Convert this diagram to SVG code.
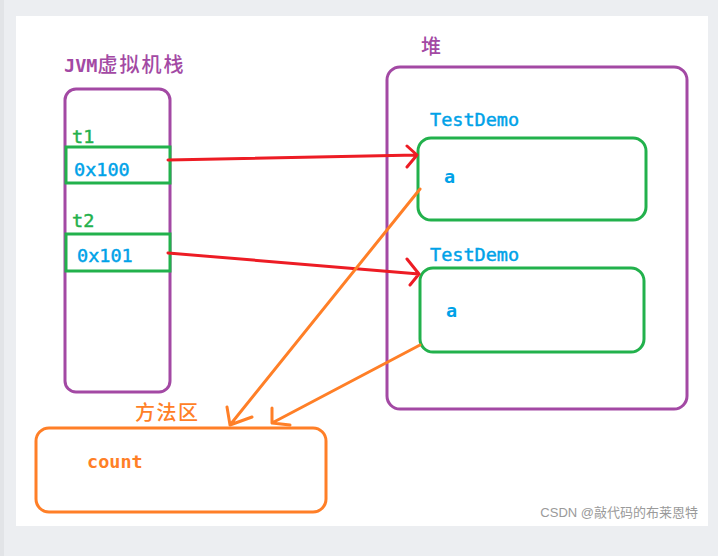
<svg xmlns="http://www.w3.org/2000/svg" width="718" height="556" viewBox="0 0 718 556">
<style>
.box{fill:none;stroke-width:3}
.pu{stroke:#a349a4}
.gr{stroke:#22b14c}
.or{stroke:#ff7f27}
.mono{font-family:"DejaVu Sans Mono","Liberation Mono",monospace;font-size:18.5px}
.semi{stroke-width:0.45}
.cjk{font-family:"Noto Sans CJK SC","DejaVu Sans",sans-serif;font-weight:500}
.ln{fill:none;stroke-width:3;stroke-linecap:round;stroke-linejoin:round}
</style>
<rect x="0" y="0" width="718" height="556" fill="#eceef1"/>
<rect x="0" y="0" width="4" height="556" fill="#e2e4e7"/>
<rect x="16" y="16" width="692" height="510" fill="#ffffff"/>

<g id="stack">
<text x="64" y="72" fill="#a349a4" font-weight="bold"><tspan class="mono" font-size="18">JVM</tspan><tspan class="cjk" font-size="20" font-weight="bold" letter-spacing="2">虚拟机栈</tspan></text>
<rect class="box pu" x="65" y="89" width="105" height="303" rx="11"/>
</g>
<g id="t1">
<text class="mono semi" x="72" y="143" fill="#22b14c" stroke="#22b14c">t1</text>
<rect x="66" y="147" width="104" height="36" fill="#ffffff" stroke="#22b14c" stroke-width="3"/>
<text class="mono semi" x="74" y="176" fill="#00a2e8" stroke="#00a2e8">0x100</text>
</g>
<g id="t2">
<text class="mono semi" x="72" y="227" fill="#22b14c" stroke="#22b14c">t2</text>
<rect x="66" y="234" width="104" height="37" fill="#ffffff" stroke="#22b14c" stroke-width="3"/>
<text class="mono semi" x="77" y="262" fill="#00a2e8" stroke="#00a2e8">0x101</text>
</g>

<g id="heap">
<text class="cjk" x="421" y="54" fill="#a349a4" font-size="20">堆</text>
<rect class="box pu" x="387" y="67" width="300" height="342" rx="13"/>
</g>
<g id="obj1">
<text class="mono semi" x="430" y="126" fill="#00a2e8" stroke="#00a2e8">TestDemo</text>
<rect class="box gr" x="418" y="138" width="228" height="82" rx="13"/>
<text class="mono" x="444" y="183" fill="#00a2e8" font-weight="bold">a</text>
</g>
<g id="obj2">
<text class="mono semi" x="430" y="261" fill="#00a2e8" stroke="#00a2e8">TestDemo</text>
<rect class="box gr" x="420" y="268" width="224" height="84" rx="13"/>
<text class="mono" x="446" y="317" fill="#00a2e8" font-weight="bold">a</text>
</g>

<g id="method">
<text class="cjk" x="135" y="420" fill="#ff7f27" font-size="20" letter-spacing="1.5">方法区</text>
<rect class="box or" x="36" y="428" width="290" height="84" rx="13"/>
<text class="mono" x="87" y="468" fill="#ff7f27" font-weight="bold">count</text>
</g>

<g id="connectors">
<path class="ln" stroke="#ed1c24" d="M168 160 L417 155 M407 146 L417 155 L407 167"/>
<path class="ln" stroke="#ed1c24" d="M168 253 L419 274 M407 259 L419 274 L410 285"/>
<path class="ln" stroke="#ff7f27" d="M420 189 L230 425 M227 407 L230 425 L252 417"/>
<path class="ln" stroke="#ff7f27" d="M420 345 L272 423 M272 408 L272 423 L290 425"/>
</g>

<text x="698" y="517" text-anchor="end" fill="#9a9a9a" font-size="13" font-family="'Liberation Sans','Noto Sans CJK SC',sans-serif">CSDN @敲代码的布莱恩特</text>
</svg>
